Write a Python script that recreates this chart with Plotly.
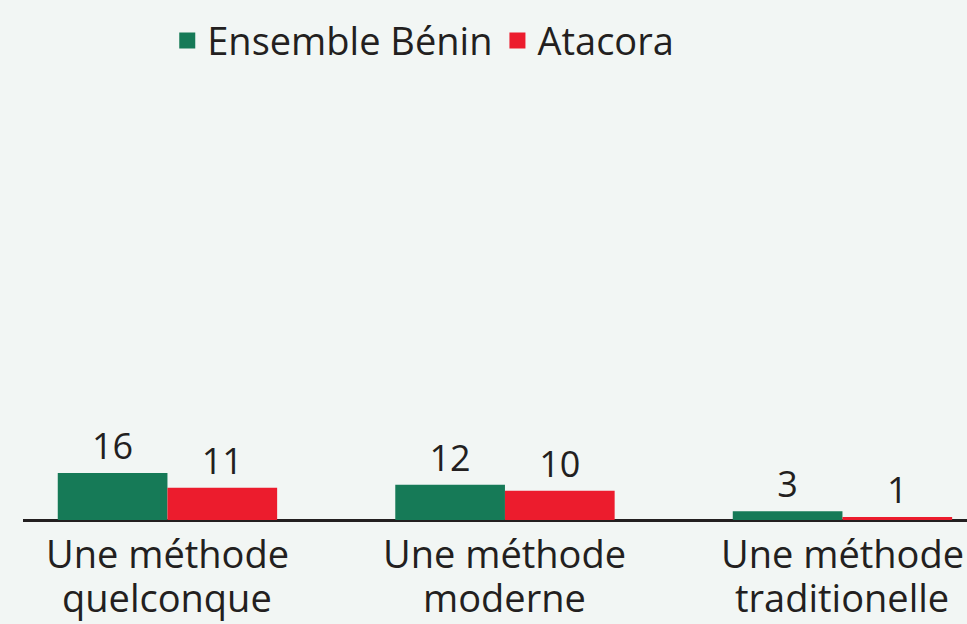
import plotly.graph_objects as go

category_line1 = ["Une méthode", "Une méthode", "Une méthode"]
category_line2 = ["quelconque", "moderne", "traditionelle"]
series_names = ["Ensemble Bénin", "Atacora"]
benin = [16, 12, 3]
atacora = [11, 10, 1]

GREEN = "#167a57"
RED = "#ec1c2d"
TEXT = "#231f20"
BG = "#f2f6f4"
FONT = "Open Sans"

xs = list(range(len(category_line1)))

fig = go.Figure()
for name, vals, col in [(series_names[0], benin, GREEN), (series_names[1], atacora, RED)]:
    fig.add_trace(go.Bar(
        x=xs, y=vals, name=name, marker=dict(color=col, line=dict(width=0)),
        text=[str(v) for v in vals], textposition="outside",
        textfont=dict(size=36, color=TEXT, family=FONT),
        cliponaxis=False, showlegend=False, hoverinfo="skip",
    ))
    fig.add_trace(go.Scatter(
        x=[None], y=[None], mode="markers", name=name,
        marker=dict(symbol="square", size=16, color=col),
    ))

# category labels (two lines, placed under the baseline)
TOP, BASE = 80, 520
def py(p):
    return (BASE - p) / (BASE - TOP)

for x, l1, l2 in zip(xs, category_line1, category_line2):
    fig.add_annotation(x=x, xref="x", y=py(553), yref="paper", text=l1,
                       showarrow=False, xanchor="center", yanchor="middle",
                       font=dict(size=38, family=FONT, color=TEXT))
    fig.add_annotation(x=x, xref="x", y=py(597), yref="paper", text=l2,
                       showarrow=False, xanchor="center", yanchor="middle",
                       font=dict(size=38, family=FONT, color=TEXT))

fig.update_layout(
    width=967, height=624,
    margin=dict(l=23, r=0, t=TOP, b=624 - BASE, autoexpand=False),
    paper_bgcolor=BG, plot_bgcolor=BG,
    barmode="group", bargap=0.35, bargroupgap=0,
    font=dict(family=FONT, color=TEXT, size=32),
    legend=dict(orientation="h", x=0.424, xanchor="center", y=0.985, yanchor="top",
                yref="container", font=dict(size=38, family=FONT, color=TEXT),
                bgcolor="rgba(0,0,0,0)", tracegroupgap=0),
    showlegend=True,
)
fig.update_xaxes(range=[-0.428, 2.369], tickvals=xs, showticklabels=False,
                 showgrid=False, zeroline=False, showline=False, ticks="",
                 automargin=False)
fig.update_yaxes(range=[0, 150], showgrid=False, zeroline=True, zerolinecolor=TEXT,
                 zerolinewidth=3, showticklabels=False, showline=False, ticks="",
                 automargin=False)

fig.write_html("out.html", config={"displayModeBar": False},
               post_script="document.body.style.margin='0';document.body.style.padding='0';document.body.style.overflow='hidden';")
